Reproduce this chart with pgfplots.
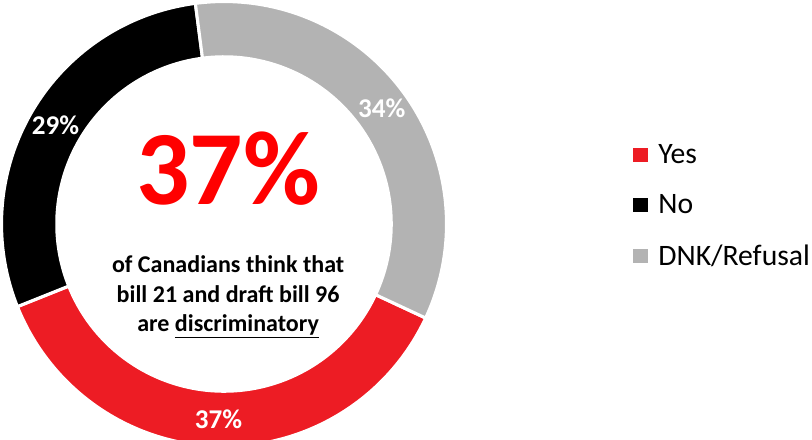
\documentclass[border=0pt]{standalone}
\usepackage{fontspec}
\setmainfont{Carlito}
\usepackage{pgfplots}
\usepackage{pgfplotstable}
\pgfplotsset{compat=1.18}
\definecolor{yescol}{HTML}{ED1C24}
\definecolor{nocol}{HTML}{000000}
\definecolor{dnkcol}{HTML}{B3B3B3}
\definecolor{bigred}{HTML}{FF0000}
\pgfplotstableread{
label value
Yes 37
No 29
DNK 34
}\shares
\begin{document}
\begin{tikzpicture}
\pgfplotstablegetelem{0}{value}\of\shares \pgfmathsetmacro{\vyes}{\pgfplotsretval}
\pgfplotstablegetelem{1}{value}\of\shares \pgfmathsetmacro{\vno}{\pgfplotsretval}
\pgfplotstablegetelem{2}{value}\of\shares \pgfmathsetmacro{\vdnk}{\pgfplotsretval}
\pgfmathsetmacro{\tot}{\vyes+\vno+\vdnk}
\pgfmathsetmacro{\aA}{-25}
\pgfmathsetmacro{\aB}{\aA-360*\vyes/\tot}
\pgfmathsetmacro{\aC}{\aB-360*\vno/\tot}
\pgfmathsetmacro{\aD}{\aC-360*\vdnk/\tot}
\pgfmathsetmacro{\mA}{(\aA+\aB)/2}
\pgfmathsetmacro{\mB}{(\aB+\aC)/2}
\pgfmathsetmacro{\mC}{(\aC+\aD)/2}
\begin{axis}[
  scale only axis, width=812pt, height=437pt,
  xmin=-226, xmax=586, ymin=-211, ymax=226,
  hide axis,
  legend style={draw=none, fill=none, at={(axis cs:400,18)}, anchor=west,
    font=\fontsize{29}{33}\selectfont, row sep=25pt, inner sep=0pt,
    /tikz/every odd column/.append style={column sep=9pt}},
  legend cell align=left,
]
\addplot[fill=yescol, draw=white, line width=3pt, domain=\aB:\aA, samples=120, variable=\t, forget plot]
  ({217.5*cos(\t)},{217.5*sin(\t)}) -- (axis cs:0,0) -- cycle;
\addplot[fill=nocol, draw=white, line width=3pt, domain=\aC:\aB, samples=120, variable=\t, forget plot]
  ({217.5*cos(\t)},{217.5*sin(\t)}) -- (axis cs:0,0) -- cycle;
\addplot[fill=dnkcol, draw=white, line width=3pt, domain=\aD:\aC, samples=120, variable=\t, forget plot]
  ({217.5*cos(\t)},{217.5*sin(\t)}) -- (axis cs:0,0) -- cycle;
\addplot[fill=white, draw=none, domain=0:360, samples=180, variable=\t, forget plot]
  ({165*cos(\t)},{165*sin(\t)}) -- cycle;
\addlegendimage{legend image code/.code={\fill[yescol] (0pt,-6.5pt) rectangle (13pt,6.5pt);}}
\addlegendentry{Yes}
\addlegendimage{legend image code/.code={\fill[nocol] (0pt,-6.5pt) rectangle (13pt,6.5pt);}}
\addlegendentry{No}
\addlegendimage{legend image code/.code={\fill[dnkcol] (0pt,-6.5pt) rectangle (13pt,6.5pt);}}
\addlegendentry{DNK/Refusal}
\node[text=white, font=\bfseries\fontsize{26.5}{29}\selectfont] at (axis cs:{191*cos(\mA)},{191*sin(\mA)}) {\vyes\%};
\node[text=white, font=\bfseries\fontsize{26.5}{29}\selectfont] at (axis cs:{191*cos(\mB)},{191*sin(\mB)}) {29\%};
\node[text=white, font=\bfseries\fontsize{26.5}{29}\selectfont] at (axis cs:{191*cos(\mC)},{191*sin(\mC)}) {34\%};
\node[text=bigred, font=\bfseries\fontsize{103}{106}\selectfont] at (axis cs:4,54) {37\%};
\node[align=center, font=\bfseries\fontsize{23.5}{29}\selectfont] at (axis cs:4,-71)
  {of Canadians think that\\bill 21 and draft bill 96\\are \underline{discriminatory}};
\end{axis}
\end{tikzpicture}
\end{document}
